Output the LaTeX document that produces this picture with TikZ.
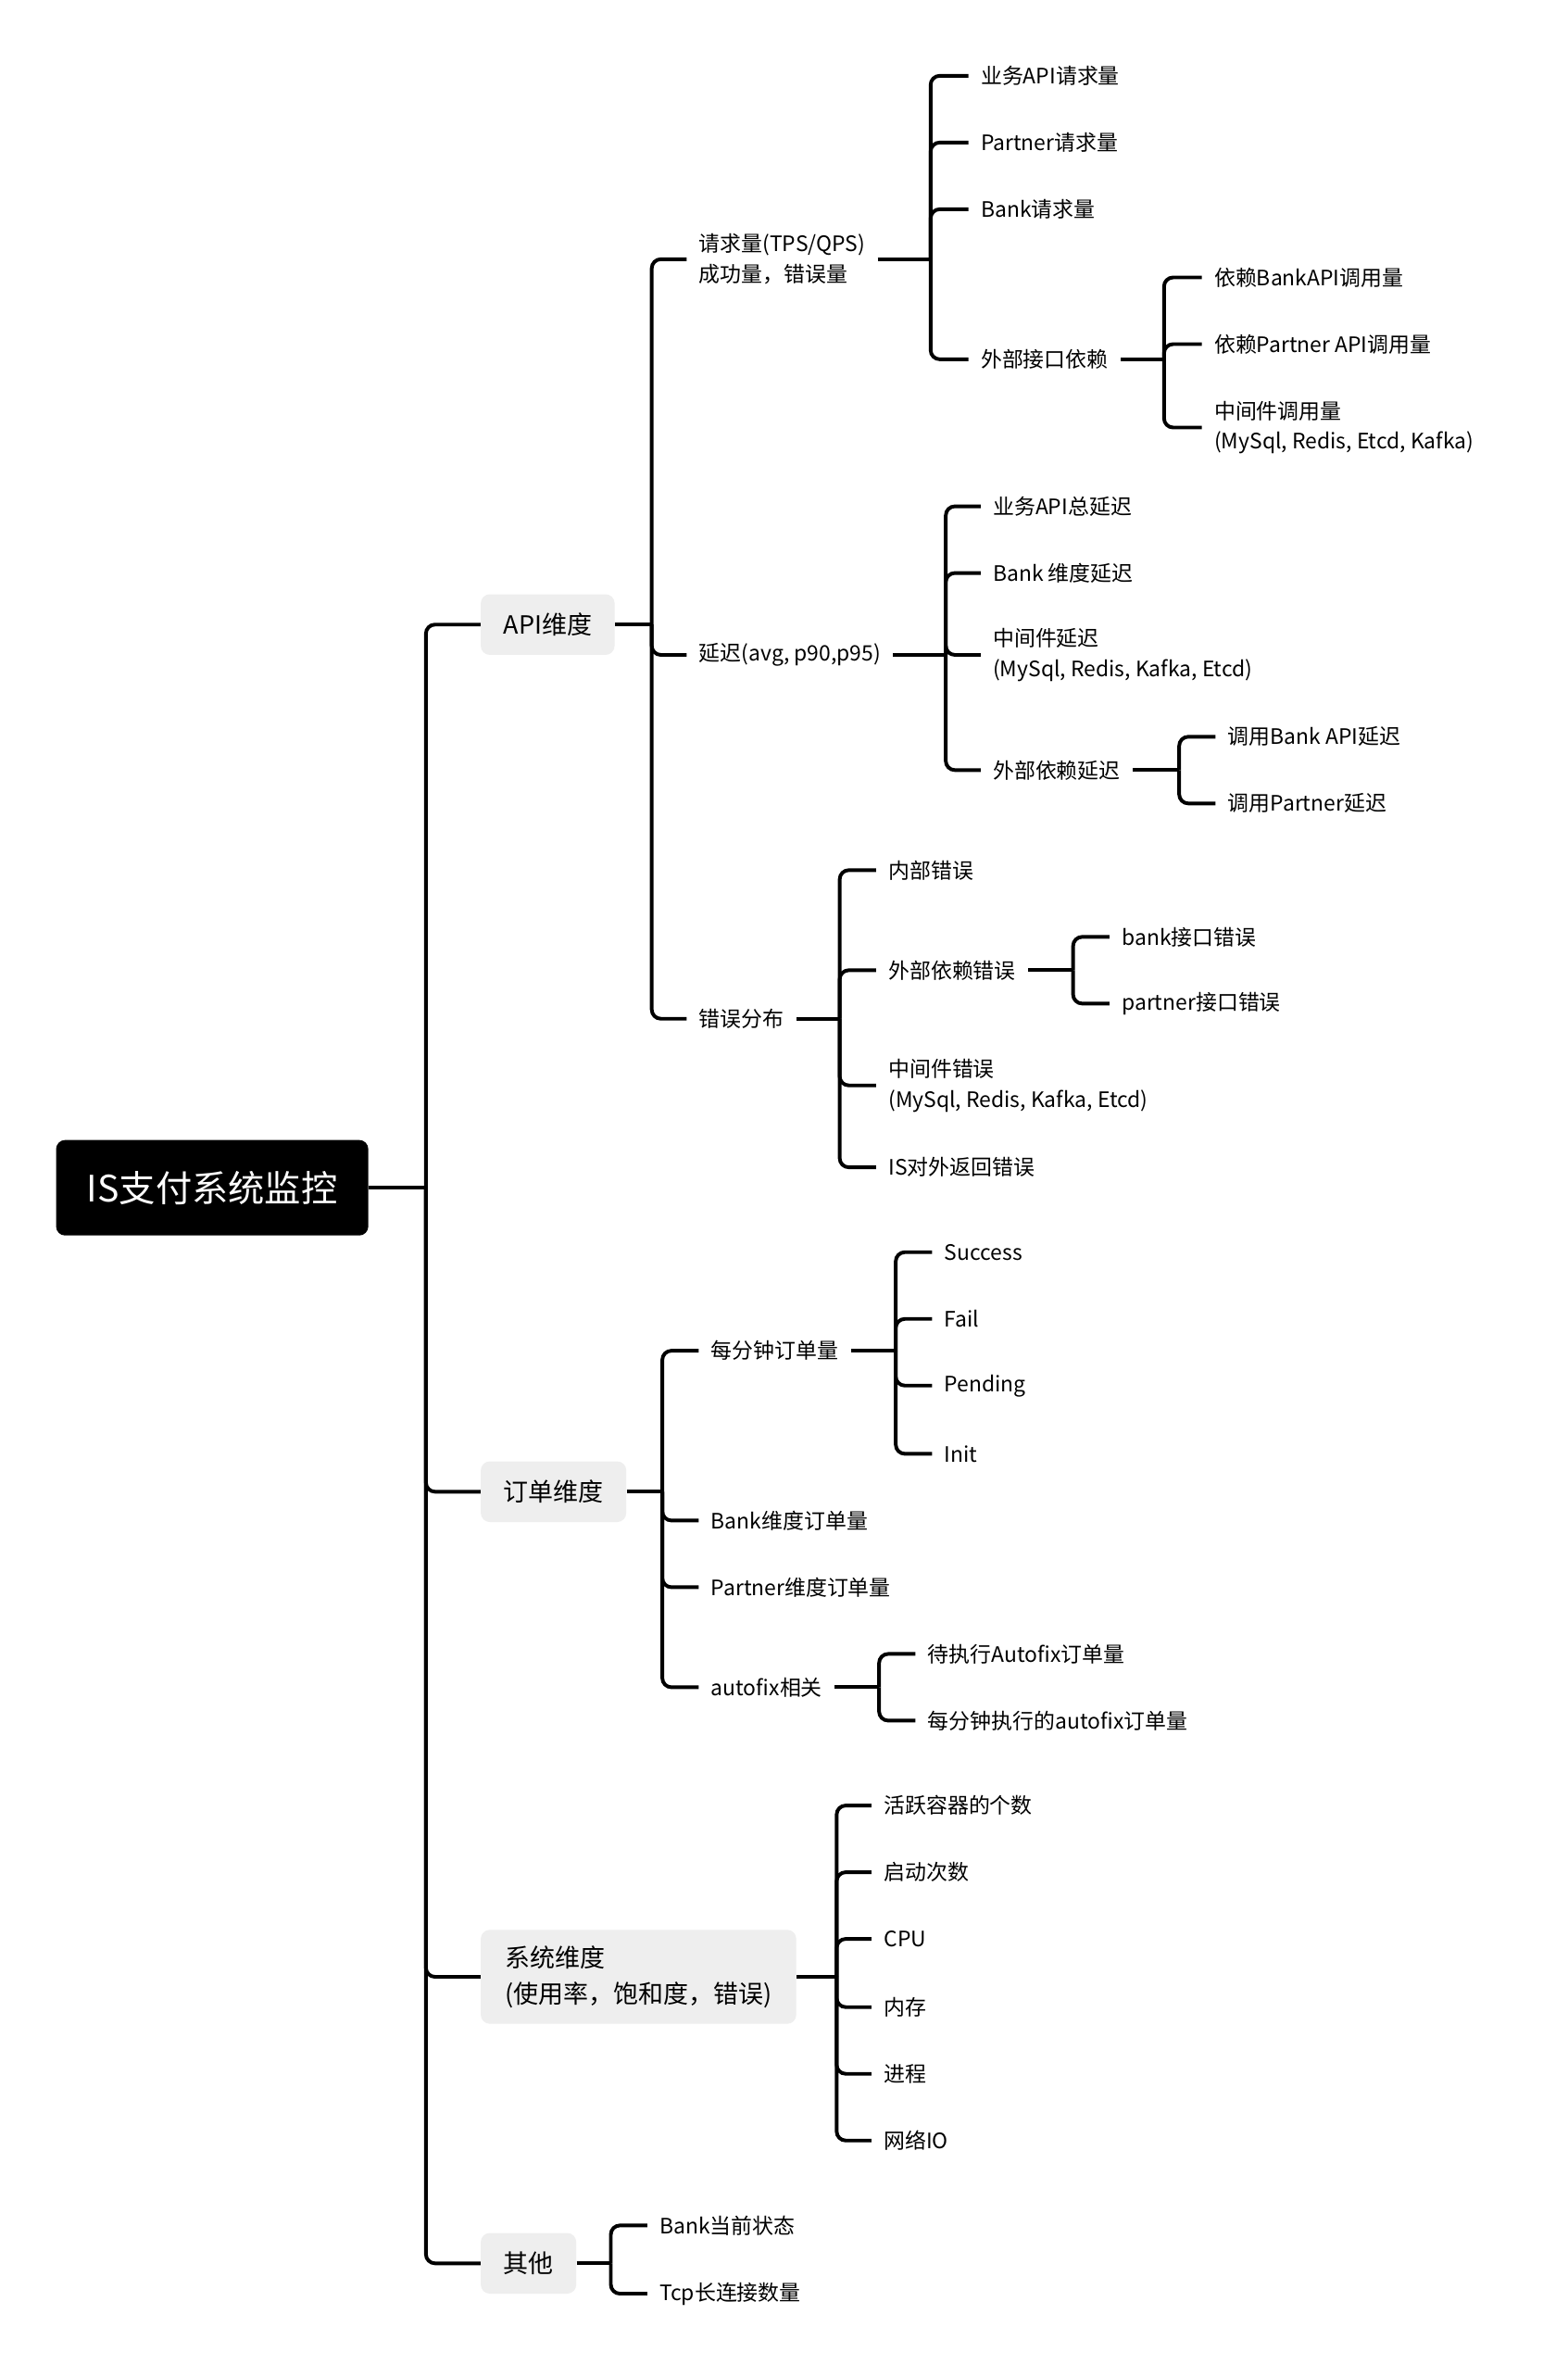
\documentclass[tikz,border=0pt]{standalone}
\usepackage{fontspec}
\setmainfont{Noto Sans CJK SC}
\usepackage{tikz}
\usetikzlibrary{calc}

\definecolor{topicGrey}{HTML}{EEEEEE}

\begin{document}
\begin{tikzpicture}[x=1pt,y=-1pt,
		link/.style={draw=black,line width=2.4pt,rounded corners=6pt},
		leaf/.style={anchor=west,inner xsep=8pt,inner ysep=2pt,align=left,font=\fontsize{14}{20}\selectfont},
		topic/.style={anchor=west,fill=topicGrey,rounded corners=6pt,inner xsep=15pt,minimum height=40pt,align=left,font=\fontsize{16.5}{24}\selectfont},
		root/.style={fill=black,text=white,rounded corners=6pt,minimum width=206pt,minimum height=63pt,font=\fontsize{24}{28}\selectfont}]
		\useasboundingbox[fill=white] (0,0) rectangle (1034,1568);

		\node[root] (root) at (140,783.5) {IS支付系统监控};
		\coordinate (trunk) at (281,783.5);

		% first level
		\node[topic] (api)   at (317,412)  {API维度};
		\node[topic] (order) at (317,984)  {订单维度};
		\node[topic,minimum height=62pt,inner xsep=16pt] (sys) at (317,1304) {系统维度\\(使用率，饱和度，错误)};
		\node[topic] (other) at (317,1493) {其他};

		\draw[link] (root.east) -- (trunk);
		\foreach \t in {api,order,sys,other}
			\draw[link] (trunk) |- (\t.west);

		% API维度
		\begin{scope}
			\node[leaf] (req) at (453,171) {请求量(TPS/QPS)\\成功量，错误量};
			\node[leaf] (lat) at (453,432) {延迟(avg, p90,p95)};
			\node[leaf] (err) at (453,672) {错误分布};
			\coordinate (apiBar) at (430,412);
			\draw[link] (api.east) -- (apiBar);
			\foreach \c in {req,lat,err}
				\draw[link] (apiBar) |- (\c.west);
		\end{scope}

		% 请求量
		\begin{scope}
			\node[leaf] (bizReq)     at (639,50)  {业务API请求量};
			\node[leaf] (partnerReq) at (639,94)  {Partner请求量};
			\node[leaf] (bankReq)    at (639,138) {Bank请求量};
			\node[leaf] (extDep)     at (639,237) {外部接口依赖};
			\coordinate (reqBar) at (614,171);
			\draw[link] (req.east) -- (reqBar);
			\foreach \c in {bizReq,partnerReq,bankReq,extDep}
				\draw[link] (reqBar) |- (\c.west);

			\node[leaf] (depBank)    at (793,183) {依赖BankAPI调用量};
			\node[leaf] (depPartner) at (793,227) {依赖Partner API调用量};
			\node[leaf] (depMid)     at (793,282) {中间件调用量\\(MySql, Redis, Etcd, Kafka)};
			\coordinate (depBar) at (768,237);
			\draw[link] (extDep.east) -- (depBar);
			\foreach \c in {depBank,depPartner,depMid}
				\draw[link] (depBar) |- (\c.west);
		\end{scope}

		% 延迟
		\begin{scope}
			\node[leaf] (latBiz)  at (647,334) {业务API总延迟};
			\node[leaf] (latBank) at (647,378) {Bank 维度延迟};
			\node[leaf] (latMid)  at (647,432) {中间件延迟\\(MySql, Redis, Kafka, Etcd)};
			\node[leaf] (latExt)  at (647,508) {外部依赖延迟};
			\coordinate (latBar) at (624,432);
			\draw[link] (lat.east) -- (latBar);
			\foreach \c in {latBiz,latBank,latMid,latExt}
				\draw[link] (latBar) |- (\c.west);

			\node[leaf] (latExtBank)    at (802,486) {调用Bank API延迟};
			\node[leaf] (latExtPartner) at (802,530) {调用Partner延迟};
			\coordinate (latExtBar) at (778,508);
			\draw[link] (latExt.east) -- (latExtBar);
			\foreach \c in {latExtBank,latExtPartner}
				\draw[link] (latExtBar) |- (\c.west);
		\end{scope}

		% 错误分布
		\begin{scope}
			\node[leaf] (errInner) at (578,574) {内部错误};
			\node[leaf] (errExt)   at (578,640) {外部依赖错误};
			\node[leaf] (errMid)   at (578,716) {中间件错误\\(MySql, Redis, Kafka, Etcd)};
			\node[leaf] (errOut)   at (578,770) {IS对外返回错误};
			\coordinate (errBar) at (554,672);
			\draw[link] (err.east) -- (errBar);
			\foreach \c in {errInner,errExt,errMid,errOut}
				\draw[link] (errBar) |- (\c.west);

			\node[leaf] (errBank)    at (732,618) {bank接口错误};
			\node[leaf] (errPartner) at (732,662) {partner接口错误};
			\coordinate (errExtBar) at (708,640);
			\draw[link] (errExt.east) -- (errExtBar);
			\foreach \c in {errBank,errPartner}
				\draw[link] (errExtBar) |- (\c.west);
		\end{scope}

		% 订单维度
		\begin{scope}
			\node[leaf] (perMin)       at (461,891)  {每分钟订单量};
			\node[leaf] (bankOrder)    at (461,1003) {Bank维度订单量};
			\node[leaf] (partnerOrder) at (461,1047) {Partner维度订单量};
			\node[leaf] (autofix)      at (461,1113) {autofix相关};
			\coordinate (orderBar) at (437,984);
			\draw[link] (order.east) -- (orderBar);
			\foreach \c in {perMin,bankOrder,partnerOrder,autofix}
				\draw[link] (orderBar) |- (\c.west);

			\node[leaf] (stSuccess) at (615,826) {Success};
			\node[leaf] (stFail)    at (615,870) {Fail};
			\node[leaf] (stPending) at (615,914) {Pending};
			\node[leaf] (stInit)    at (615,959) {Init};
			\coordinate (perMinBar) at (591,891);
			\draw[link] (perMin.east) -- (perMinBar);
			\foreach \c in {stSuccess,stFail,stPending,stInit}
				\draw[link] (perMinBar) |- (\c.west);

			\node[leaf] (fixWait) at (604,1091) {待执行Autofix订单量};
			\node[leaf] (fixDone) at (604,1135) {每分钟执行的autofix订单量};
			\coordinate (fixBar) at (580,1113);
			\draw[link] (autofix.east) -- (fixBar);
			\foreach \c in {fixWait,fixDone}
				\draw[link] (fixBar) |- (\c.west);
		\end{scope}

		% 系统维度
		\begin{scope}
			\node[leaf] (sysPods)    at (575,1191) {活跃容器的个数};
			\node[leaf] (sysStarts)  at (575,1235) {启动次数};
			\node[leaf] (sysCpu)     at (575,1279) {CPU};
			\node[leaf] (sysMem)     at (575,1324) {内存};
			\node[leaf] (sysProc)    at (575,1368) {进程};
			\node[leaf] (sysNet)     at (575,1412) {网络IO};
			\coordinate (sysBar) at (552,1304);
			\draw[link] (sys.east) -- (sysBar);
			\foreach \c in {sysPods,sysStarts,sysCpu,sysMem,sysProc,sysNet}
				\draw[link] (sysBar) |- (\c.west);
		\end{scope}

		% 其他
		\begin{scope}
			\node[leaf] (bankState) at (427,1468) {Bank当前状态};
			\node[leaf] (tcpConn)   at (427,1513) {Tcp长连接数量};
			\coordinate (otherBar) at (403,1493);
			\draw[link] (other.east) -- (otherBar);
			\foreach \c in {bankState,tcpConn}
				\draw[link] (otherBar) |- (\c.west);
		\end{scope}
	\end{tikzpicture}
\end{document}
